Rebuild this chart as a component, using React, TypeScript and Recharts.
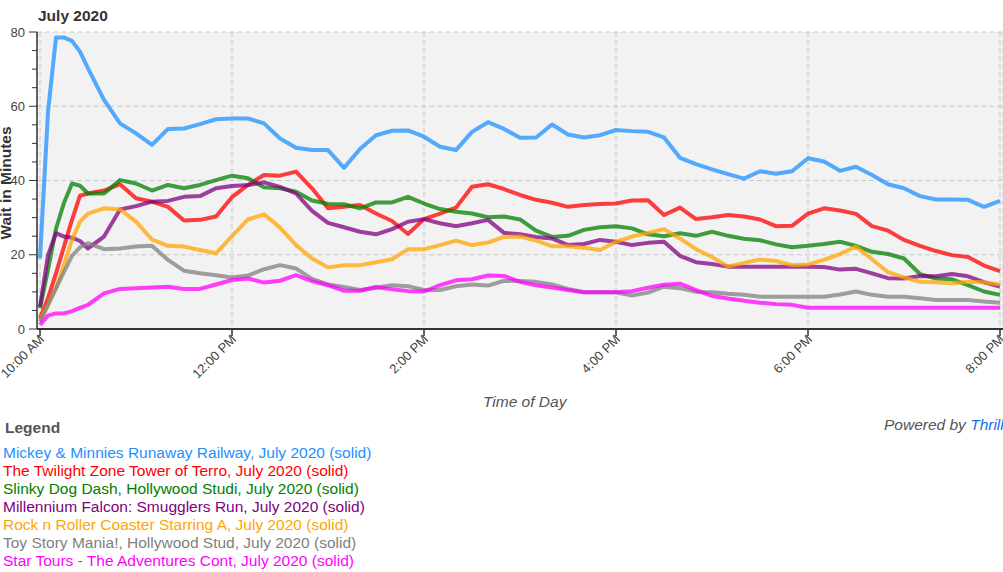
import { CartesianGrid, Line, LineChart, XAxis, YAxis } from 'recharts';

// minutes after 10:00 AM
const minutes = [
  0, 5, 10, 15, 20, 25, 30, 40, 50, 60, 70, 80, 90, 100, 110, 120,
  130, 140, 150, 160, 170, 180, 190, 200, 210, 220, 230, 240,
  250, 260, 270, 280, 290, 300, 310, 320, 330, 340, 350, 360,
  370, 380, 390, 400, 410, 420, 430, 440, 450, 460, 470, 480,
  490, 500, 510, 520, 530, 540, 550, 560, 570, 580, 590, 600,
];

const xTicks = [0, 120, 240, 360, 480, 600];
const xTickLabels = ['10:00 AM', '12:00 PM', '2:00 PM', '4:00 PM', '6:00 PM', '8:00 PM'];
const yTicks = [0, 5, 10, 15, 20, 25, 30, 35, 40, 45, 50, 55, 60, 65, 70, 75, 80];

const mickey = [
  19, 58.5, 78.5, 78.5, 77.6, 74.7, 70.2, 61.7, 55.4, 52.7, 49.6, 53.9, 54, 55.2, 56.5, 56.7,
  56.7, 55.4, 51.3, 48.8, 48.2, 48.2, 43.4, 48.5, 52.2, 53.4, 53.5, 51.8,
  49.1, 48.2, 53.1, 55.7, 53.9, 51.5, 51.6, 55.1, 52.4, 51.6, 52.2, 53.6,
  53.3, 53.1, 51.6, 46.1, 44.4, 43, 41.7, 40.5, 42.5, 41.8, 42.5, 46,
  45.1, 42.6, 43.7, 41.5, 39, 37.9, 35.8, 34.9, 34.9, 34.8, 32.9, 34.5,
];
const twilight = [
  2.9, 8.3, 15, 22.2, 29.4, 35.9, 36.5, 37.3, 39, 35.2, 34.3, 32.9, 29.2, 29.4, 30.3, 35.5,
  38.8, 41.5, 41.3, 42.4, 37.9, 32.5, 32.9, 33.4, 31.1, 29.1, 25.6, 29.6,
  31.1, 32.7, 38.3, 39, 37.7, 36.1, 34.8, 34, 32.9, 33.4, 33.7, 33.8,
  34.6, 34.7, 30.7, 32.7, 29.6, 30.1, 30.7, 30.3, 29.5, 27.7, 27.8, 31.1,
  32.5, 31.9, 31, 27.7, 26.5, 24, 22.4, 21, 19.9, 19.4, 17.1, 15.6,
];
const slinky = [
  5.6, 16, 27, 34, 39.2, 38.6, 36.5, 36.5, 40.1, 39.2, 37.3, 38.8, 37.9, 38.8, 40.1, 41.3,
  40.6, 38.2, 37.9, 37, 34.6, 33.7, 33.6, 32.5, 34.1, 34.1, 35.6, 33.8,
  32.3, 31.6, 31.1, 30.1, 30.3, 29.5, 26.5, 24.8, 25.1, 26.7, 27.4, 27.7,
  27.1, 25.5, 25, 25.8, 25.1, 26.2, 25.1, 24.3, 23.9, 22.8, 22, 22.4,
  22.9, 23.5, 22.4, 20.8, 20.2, 19, 14.8, 13.6, 13.4, 11.8, 10.1, 9.2,
];
const falcon = [
  6, 19.9, 25.8, 24.9, 24.6, 23.7, 21.7, 24.9, 32.2, 33.1, 34.3, 34.5, 35.6, 35.8, 37.9, 38.5,
  38.8, 39.5, 38.3, 36.5, 31.8, 28.6, 27.4, 26.2, 25.5, 26.9, 28.9, 29.6,
  28.5, 27.7, 28.5, 29.4, 25.9, 25.5, 24.8, 24.4, 22.6, 22.9, 24, 23.5,
  22.6, 23.2, 23.5, 19.7, 18, 17.5, 16.8, 16.8, 16.8, 16.8, 16.8, 16.8,
  16.7, 16, 16.2, 15, 13.7, 13.6, 14.3, 14.2, 14.8, 14.2, 12.6, 11.4,
];
const rockn = [
  2.4, 6.5, 11, 17.2, 24, 28.9, 31.1, 32.5, 32.2, 28.9, 24.1, 22.4, 22.2, 21.3, 20.4, 25,
  29.5, 30.9, 27.3, 22.6, 19, 16.6, 17.2, 17.2, 18, 18.8, 21.5, 21.5,
  22.6, 23.8, 22.6, 23.3, 24.8, 24.9, 23.8, 22.3, 22.3, 21.9, 21.3, 23.5,
  24.9, 25.9, 26.9, 24.4, 21.5, 19.4, 16.8, 17.8, 18.7, 18.3, 17.2, 17.4,
  18.6, 20.2, 22.2, 18.8, 15.3, 13.9, 12.7, 12.6, 12.3, 12.7, 12.6, 12,
];
const toyStory = [
  2, 6.5, 11, 15.4, 19.7, 22, 23.1, 21.5, 21.7, 22.2, 22.4, 18.6, 15.7, 15, 14.5, 13.9,
  14.4, 16.1, 17.2, 16.3, 13.5, 12, 11.3, 10.5, 11.1, 11.8, 11.5, 10.5,
  10.5, 11.5, 12, 11.7, 13, 12.9, 12.7, 12, 10.8, 9.9, 9.9, 9.9,
  9, 9.8, 11.4, 11, 10, 9.9, 9.5, 9.2, 8.7, 8.7, 8.7, 8.7,
  8.7, 9.3, 10.1, 9.2, 8.7, 8.7, 8.3, 7.8, 7.8, 7.8, 7.4, 7.1,
];
const starTours = [
  1.1, 3.6, 4.2, 4.2, 4.8, 5.7, 6.5, 9.6, 10.8, 11, 11.2, 11.4, 10.8, 10.8, 12, 13.2,
  13.6, 12.5, 13, 14.5, 12.9, 11.8, 10.3, 10.3, 11.3, 10.7, 10.2, 10.1,
  11.8, 13.1, 13.4, 14.4, 14.3, 12.7, 11.8, 11.2, 10.5, 9.9, 9.9, 9.9,
  10.2, 11.1, 11.9, 12.2, 10.5, 8.9, 8.2, 7.6, 7.1, 6.7, 6.5, 5.7,
  5.7, 5.7, 5.7, 5.7, 5.7, 5.7, 5.7, 5.7, 5.7, 5.7, 5.7, 5.7,
];

const series = [
  { key: 'mickey', values: mickey, color: '#1e90ff', label: 'Mickey & Minnies Runaway Railway, July 2020 (solid)' },
  { key: 'twilight', values: twilight, color: '#ff0000', label: 'The Twilight Zone Tower of Terro, July 2020 (solid)' },
  { key: 'slinky', values: slinky, color: '#008000', label: 'Slinky Dog Dash, Hollywood Studi, July 2020 (solid)' },
  { key: 'falcon', values: falcon, color: '#800080', label: 'Millennium Falcon: Smugglers Run, July 2020 (solid)' },
  { key: 'rockn', values: rockn, color: '#ffa500', label: 'Rock n Roller Coaster Starring A, July 2020 (solid)' },
  { key: 'toyStory', values: toyStory, color: '#808080', label: 'Toy Story Mania!, Hollywood Stud, July 2020 (solid)' },
  { key: 'starTours', values: starTours, color: '#ff00ff', label: 'Star Tours - The Adventures Cont, July 2020 (solid)' },
];

const rows = minutes.map((m, i) => {
  const row: Record<string, number> = { m };
  series.forEach((s) => {
    row[s.key] = s.values[i];
  });
  return row;
});

function YTick({ x, y, payload }: any) {
  const major = payload.value % 20 === 0;
  return (
    <g>
      <line x1={x - (major ? 8 : 5)} x2={x} y1={y} y2={y} stroke="#333" strokeWidth={1} />
      {major && (
        <text x={x - 12} y={y} dy={4.5} textAnchor="end" fontSize={13} fill="#444">
          {payload.value}
        </text>
      )}
    </g>
  );
}

function XTick({ x, y, payload }: any) {
  const idx = xTicks.indexOf(payload.value);
  const tx = x + 5;
  const ty = y + 11;
  return (
    <g>
      <line x1={x} x2={x} y1={y} y2={y + 7} stroke="#333" strokeWidth={1.5} />
      <text x={tx} y={ty} textAnchor="end" fontSize={13} fill="#444" transform={`rotate(-45, ${tx}, ${ty})`}>
        {xTickLabels[idx]}
      </text>
    </g>
  );
}

const font = 'Arial, "Liberation Sans", sans-serif';

export default function App() {
  return (
    <div
      style={{
        position: 'absolute',
        left: 0,
        top: 0,
        width: 1003,
        height: 572,
        overflow: 'hidden',
        background: '#fff',
        fontFamily: font,
      }}
    >
      <div style={{ position: 'absolute', left: 38, top: 7, fontSize: 15.5, lineHeight: '18px', fontWeight: 'bold', color: '#333' }}>
        July 2020
      </div>
      <div
        style={{
          position: 'absolute',
          left: 5.5 - 100,
          top: 183 - 9,
          width: 200,
          textAlign: 'center',
          fontSize: 15.5,
          lineHeight: '18px',
          fontWeight: 'bold',
          color: '#333',
          transform: 'rotate(-90deg)',
        }}
      >
        Wait in Minutes
      </div>
      <div style={{ position: 'absolute', left: 0, top: 0 }}>
        <LineChart width={1003} height={389} data={rows} margin={{ top: 32, right: 0, bottom: 0, left: 0 }}>
          <CartesianGrid
            fill="#f2f2f2"
            stroke="#c8c8c8"
            strokeDasharray="5 3"
            horizontalValues={[20, 40, 60, 80]}
          />
          <XAxis
            dataKey="m"
            type="number"
            domain={[0, 600]}
            ticks={xTicks}
            interval={0}
            padding={{ left: 3, right: 3 }}
            height={60}
            axisLine={{ stroke: '#333', strokeWidth: 2 }}
            tickLine={false}
            tickSize={0}
            tickMargin={0}
            tick={<XTick />}
          />
          <YAxis
            type="number"
            domain={[0, 80]}
            ticks={yTicks}
            interval={0}
            width={37}
            axisLine={{ stroke: '#333', strokeWidth: 1.5 }}
            tickLine={false}
            tickSize={0}
            tickMargin={0}
            tick={<YTick />}
          />
          {series.map((s) => (
            <Line
              key={s.key}
              dataKey={s.key}
              type="linear"
              stroke={s.color}
              strokeOpacity={0.75}
              strokeWidth={4}
              strokeLinejoin="round"
              dot={false}
              activeDot={false}
              isAnimationActive={false}
            />
          ))}
        </LineChart>
      </div>
      <div style={{ position: 'absolute', left: 483, top: 393, fontSize: 15.5, lineHeight: '18px', fontStyle: 'italic', color: '#555' }}>
        Time of Day
      </div>
      <div style={{ position: 'absolute', left: 884, top: 416, fontSize: 15.5, lineHeight: '18px', fontStyle: 'italic', color: '#555', whiteSpace: 'nowrap' }}>
        Powered by <span style={{ color: '#1570f0' }}>ThrillData</span>
      </div>
      <div style={{ position: 'absolute', left: 5, top: 419, fontSize: 15.5, lineHeight: '18px', fontWeight: 'bold', color: '#555' }}>
        Legend
      </div>
      <div style={{ position: 'absolute', left: 3, top: 444, fontSize: 15.5, lineHeight: '18px', whiteSpace: 'nowrap' }}>
        {series.map((s) => (
          <div key={s.key} style={{ color: s.color }}>
            {s.label}
          </div>
        ))}
      </div>
    </div>
  );
}
